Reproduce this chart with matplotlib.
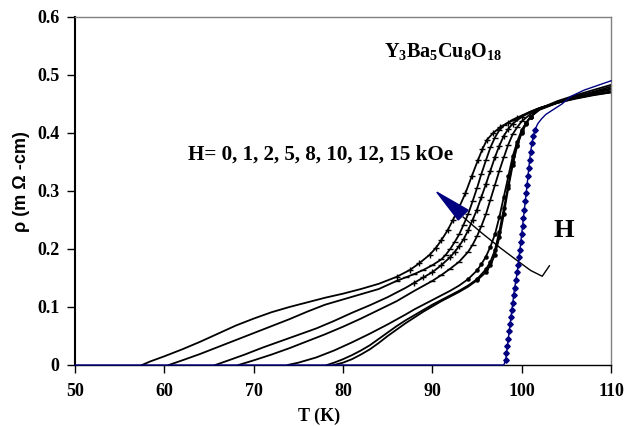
import matplotlib
matplotlib.use("Agg")
import matplotlib.pyplot as plt
from matplotlib.ticker import FuncFormatter, MultipleLocator
from matplotlib.patches import Polygon

plt.rcParams['mathtext.fontset'] = 'custom'
plt.rcParams['mathtext.rm'] = 'Liberation Serif'
plt.rcParams['mathtext.bf'] = 'Liberation Serif:bold'

NAVY = '#000080'

# ---- data (T in K, rho in mOhm-cm) ----
# H = 0 kOe (blue)
t_h0 = [50, 98.0, 98.2, 98.3, 98.4, 98.5, 98.6, 98.7, 98.8, 98.9, 99.0, 99.1, 99.2,
        99.35, 99.5, 99.6, 99.7, 99.8, 99.9, 100.0, 100.1, 100.2, 100.3, 100.4, 100.5,
        100.6, 100.7, 100.8, 100.9, 101.0, 101.15, 101.3, 101.5, 101.8, 102.2, 102.7,
        103.5, 104.5, 105.5, 107, 108.5, 110]
r_h0 = [0, 0, 0.008, 0.02, 0.032, 0.045, 0.058, 0.07, 0.083, 0.095, 0.107, 0.12, 0.132,
        0.146, 0.16, 0.173, 0.186, 0.198, 0.212, 0.226, 0.24, 0.254, 0.268, 0.282, 0.296,
        0.31, 0.325, 0.34, 0.354, 0.368, 0.382, 0.395, 0.406, 0.416, 0.424, 0.432,
        0.44, 0.45, 0.463, 0.474, 0.482, 0.49]

# H = 15 kOe
t_h15 = [57.5, 58.4, 60, 62, 64, 66, 68, 70, 72, 74, 76, 78, 80, 82, 84, 86, 87.5, 88.5,
         89.7, 90.4, 91, 91.7, 92.3, 93, 93.7, 94.4, 95.1, 95.6, 96.1, 96.8, 97.6, 98.5,
         99.5, 100.9, 102, 104, 106, 108, 110]
r_h15 = [0, 0.006, 0.015, 0.027, 0.04, 0.054, 0.068, 0.08, 0.091, 0.1, 0.108, 0.116,
         0.123, 0.131, 0.14, 0.152, 0.164, 0.175, 0.19, 0.202, 0.215, 0.232, 0.25, 0.272,
         0.296, 0.325, 0.353, 0.372, 0.388, 0.4, 0.41, 0.418, 0.425, 0.436, 0.443, 0.452,
         0.46, 0.466, 0.47]

# H = 12 kOe
t_h12 = [60.5, 62, 64, 66, 68, 70, 72, 74, 76, 78, 80, 82, 84, 86, 87, 88, 89, 90, 91,
         91.5, 92, 92.5, 93, 93.5, 94, 94.5, 95, 95.5, 96, 96.5, 97, 97.5, 98, 99, 100,
         101, 102, 104, 106, 108, 110]
r_h12 = [0, 0.008, 0.019, 0.031, 0.043, 0.055, 0.067, 0.079, 0.092, 0.104, 0.113, 0.122,
         0.131, 0.145, 0.151, 0.157, 0.164, 0.172, 0.182, 0.19, 0.2, 0.212, 0.225, 0.242,
         0.26, 0.282, 0.305, 0.33, 0.353, 0.375, 0.392, 0.405, 0.413, 0.423, 0.43, 0.437,
         0.443, 0.452, 0.459, 0.465, 0.47]

# H = 10 kOe
t_h10 = [65.7, 67, 69, 71, 73, 75, 77, 79, 81, 83, 85, 87, 88, 89, 90, 91, 92, 92.5, 93,
         93.5, 94, 94.5, 95, 95.5, 96, 96.5, 97, 97.5, 98, 98.5, 99, 100, 101, 102, 104,
         106, 108, 110]
r_h10 = [0, 0.007, 0.018, 0.03, 0.041, 0.052, 0.063, 0.076, 0.09, 0.103, 0.117, 0.133,
         0.142, 0.151, 0.16, 0.172, 0.186, 0.195, 0.205, 0.217, 0.232, 0.25, 0.268, 0.29,
         0.312, 0.335, 0.358, 0.378, 0.395, 0.407, 0.416, 0.428, 0.436, 0.443, 0.453,
         0.46, 0.466, 0.472]

# H = 8 kOe
t_h8 = [68.3, 70, 72, 74, 76, 78, 80, 82, 84, 86, 88, 90, 91, 92, 93, 94, 94.5, 95,
        95.5, 96, 96.5, 97, 97.5, 98, 98.5, 99, 99.5, 100, 101, 102, 104, 106, 108, 110]
r_h8 = [0, 0.008, 0.018, 0.029, 0.041, 0.053, 0.066, 0.08, 0.095, 0.11, 0.128, 0.145,
        0.155, 0.166, 0.178, 0.195, 0.207, 0.222, 0.24, 0.26, 0.285, 0.31, 0.335, 0.358,
        0.38, 0.398, 0.41, 0.42, 0.433, 0.441, 0.452, 0.461, 0.468, 0.475]

# H = 5 kOe
t_h5 = [73.8, 75, 77, 79, 81, 83, 85, 87, 88, 89, 90, 91, 92, 93, 94, 95, 95.5, 96,
        96.5, 97, 97.5, 98, 98.5, 99, 99.5, 100, 100.5, 101, 102, 104, 106, 108, 110]
r_h5 = [0, 0.004, 0.013, 0.025, 0.039, 0.054, 0.07, 0.087, 0.096, 0.104, 0.112, 0.12,
        0.128, 0.137, 0.148, 0.163, 0.174, 0.187, 0.204, 0.225, 0.255, 0.29, 0.325, 0.36,
        0.385, 0.405, 0.418, 0.428, 0.44, 0.452, 0.462, 0.47, 0.477]

# H = 2 kOe
t_h2 = [78.2, 79, 80, 81, 82, 83, 84, 85, 86, 87, 88, 89, 90, 91, 92, 93, 94, 95, 96,
        96.5, 97, 97.5, 98, 98.5, 99, 99.5, 100, 100.5, 101, 102, 104, 106, 108, 110]
r_h2 = [0, 0.004, 0.01, 0.017, 0.025, 0.034, 0.045, 0.056, 0.067, 0.077, 0.086, 0.095,
        0.104, 0.112, 0.12, 0.128, 0.137, 0.148, 0.165, 0.178, 0.198, 0.23, 0.27, 0.31,
        0.35, 0.38, 0.402, 0.417, 0.428, 0.441, 0.453, 0.463, 0.471, 0.48]

# H = 1 kOe
t_h1 = [79, 80, 81, 82, 83, 84, 85, 86, 87, 88, 89, 90, 91, 92, 93, 94, 95, 96, 96.5,
        97, 97.5, 98, 98.5, 99, 99.5, 100, 100.5, 101, 102, 104, 106, 108, 110]
r_h1 = [0, 0.004, 0.01, 0.018, 0.027, 0.038, 0.05, 0.061, 0.072, 0.082, 0.092, 0.101,
        0.11, 0.118, 0.126, 0.135, 0.146, 0.16, 0.172, 0.19, 0.22, 0.26, 0.305, 0.345,
        0.378, 0.4, 0.416, 0.428, 0.442, 0.455, 0.465, 0.474, 0.483]

black_curves = [(t_h15, r_h15, '+'), (t_h12, r_h12, '_'), (t_h10, r_h10, '+'),
                (t_h8, r_h8, '_'), (t_h5, r_h5, '.'), (t_h2, r_h2, '.'), (t_h1, r_h1, '.')]

# arrow showing increasing field
arrow_t = [93.45, 95.5, 97.6, 99.5, 101.0, 102.3, 103.1]
arrow_r = [0.255, 0.228, 0.202, 0.180, 0.163, 0.153, 0.171]
head_t = [90.5, 94.0, 92.9]
head_r = [0.298, 0.267, 0.250]

fig = plt.figure(figsize=(6.24, 4.26), dpi=100)
ax = fig.add_axes([0.1202, 0.1432, 0.8590, 0.8169])

for t, r, m in black_curves:
    marks = [0.14 < rv < 0.43 for rv in r]
    ax.plot(t, r, color='black', lw=1.3, marker=m, ms=4.5, mew=1.0, markevery=marks,
            clip_on=False)
blue_marks = [0 < rv < 0.41 for rv in r_h0]
ax.plot(t_h0, r_h0, color=NAVY, lw=1.0, marker='D', ms=2.8, markevery=blue_marks,
        clip_on=False, zorder=5)

ax.plot(arrow_t, arrow_r, color='black', lw=1.0)
ax.add_patch(Polygon(list(zip(head_t, head_r)), closed=True, facecolor=NAVY,
                     edgecolor=NAVY, zorder=6))

ax.set_xlim(50, 110)
ax.set_ylim(0, 0.6)
ax.xaxis.set_major_locator(MultipleLocator(10))
ax.yaxis.set_major_locator(MultipleLocator(0.1))
ax.yaxis.set_major_formatter(FuncFormatter(lambda v, p: '0' if abs(v) < 1e-9 else '%.1f' % v))

for sp in ['top', 'right']:
    ax.spines[sp].set_color('#808080')
    ax.spines[sp].set_linewidth(1.0)
ax.spines['left'].set_linewidth(1.5)
ax.spines['bottom'].set_linewidth(1.0)
ax.tick_params(direction='out', length=6, width=1, labelsize=13)
ax.tick_params(axis='x', pad=7)
ax.tick_params(axis='y', pad=5)
for lab in ax.get_xticklabels() + ax.get_yticklabels():
    lab.set_fontfamily('Liberation Serif')
    lab.set_fontweight('bold')

ax.set_xlabel('T (K)', family='Liberation Serif', fontweight='bold', fontsize=13)
ax.xaxis.set_label_coords(0.455, -0.122)
ax.set_ylabel('ρ (m Ω -cm)', family='Liberation Sans', fontweight='bold', fontsize=13)
ax.yaxis.set_label_coords(-0.084, 0.526)

ax.text(91.2, 0.54, r'$\mathbf{Y_3Ba_5Cu_8O_{18}}$', fontsize=14.5, ha='center', va='center')
ax.text(62.6, 0.362, 'H= 0, 1, 2, 5, 8, 10, 12, 15 kOe', family='Liberation Serif',
        fontweight='bold', fontsize=15.2, ha='left', va='center')
ax.text(104.7, 0.232, 'H', family='Liberation Serif', fontweight='bold', fontsize=19,
        ha='center', va='center')

fig.savefig('out.png', dpi=100)
